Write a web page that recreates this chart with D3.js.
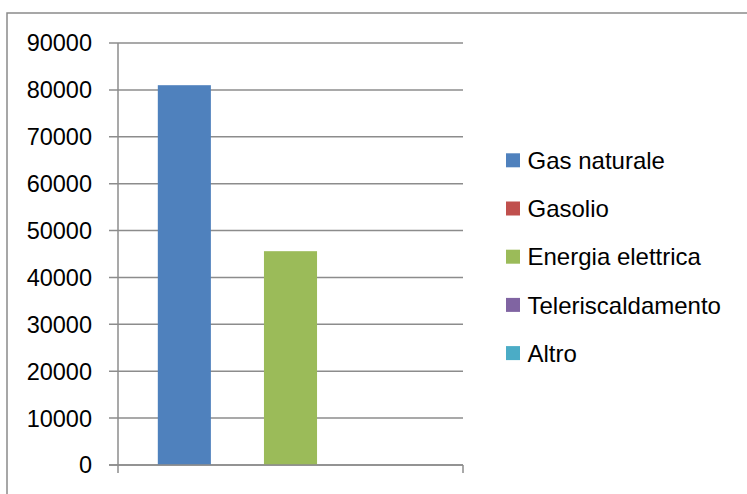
<!DOCTYPE html>
<html><head><meta charset="utf-8">
<script src="https://cdn.jsdelivr.net/npm/d3@7"></script>
<style>html,body{margin:0;padding:0;background:#fff;overflow:hidden}</style>
</head><body><svg id="c" width="747" height="494"></svg>
<script>
const categories = [""];
const seriesNames = ["Gas naturale", "Gasolio", "Energia elettrica", "Teleriscaldamento", "Altro"];
const seriesValues = [81000, 0, 45600, 0, 0];
const seriesColors = ["#4F81BD", "#C0504D", "#9BBB59", "#8064A2", "#4BACC6"];
const yTicks = [0, 10000, 20000, 30000, 40000, 50000, 60000, 70000, 80000, 90000];

(function () {
const svg = d3.select("#c");
const font = "'Liberation Sans', Arial, sans-serif";
const pLeft = 118, pRight = 463, pTop = 43, pBottom = 465;

svg.append("rect").attr("x", 7).attr("y", 13).attr("width", 800).attr("height", 600)
  .attr("fill", "none").attr("stroke", "#8a8a8a").attr("stroke-width", 1.5);

const y = d3.scaleLinear().domain([0, 90000]).range([pBottom, pTop]);
const x0 = d3.scaleBand().domain(categories).range([pLeft, pRight]).padding(0);
const x1 = d3.scaleBand().domain(seriesNames).range([0, x0.bandwidth()])
  .paddingInner(0).paddingOuter(0.75);

// gridlines
svg.append("g").selectAll("line").data(yTicks).join("line")
  .attr("x1", pLeft - 9).attr("x2", pRight)
  .attr("y1", d => y(d)).attr("y2", d => y(d))
  .attr("stroke", "#8c8c8c").attr("stroke-width", 1.5);

// bars
const g = svg.append("g");
categories.forEach(c => {
  g.selectAll("rect.b").data(seriesNames.map((s, i) => ({s, v: seriesValues[i], col: seriesColors[i]})))
    .join("rect").attr("class", "b")
    .attr("x", d => x0(c) + x1(d.s))
    .attr("width", x1.bandwidth())
    .attr("y", d => y(d.v))
    .attr("height", d => y(0) - y(d.v))
    .attr("fill", d => d.col);
});

// axes lines
svg.append("line").attr("x1", pLeft).attr("x2", pLeft).attr("y1", pTop).attr("y2", pBottom + 8)
  .attr("stroke", "#8c8c8c").attr("stroke-width", 1.5);
svg.append("line").attr("x1", pLeft - 9).attr("x2", pRight).attr("y1", pBottom).attr("y2", pBottom)
  .attr("stroke", "#8c8c8c").attr("stroke-width", 1.5);
svg.append("line").attr("x1", pRight).attr("x2", pRight).attr("y1", pBottom).attr("y2", pBottom + 8)
  .attr("stroke", "#8c8c8c").attr("stroke-width", 1.5);

// y labels
svg.append("g").selectAll("text").data(yTicks).join("text")
  .attr("x", 92).attr("y", d => y(d)).attr("dy", "0.36em")
  .attr("text-anchor", "end").attr("font-family", font).attr("font-size", 23.5)
  .attr("fill", "#000").text(d => d);

// legend
const lg = svg.append("g").selectAll("g").data(seriesNames).join("g")
  .attr("transform", (d, i) => `translate(506,${160.3 + i * 48.2})`);
lg.append("rect").attr("x", 0).attr("y", -7).attr("width", 14).attr("height", 14)
  .attr("fill", (d, i) => seriesColors[i]);
lg.append("text").attr("x", 21.5).attr("y", 0).attr("dy", "0.36em")
  .attr("font-family", font).attr("font-size", 24).attr("fill", "#000")
  .text(d => d);
})();
</script></body></html>
